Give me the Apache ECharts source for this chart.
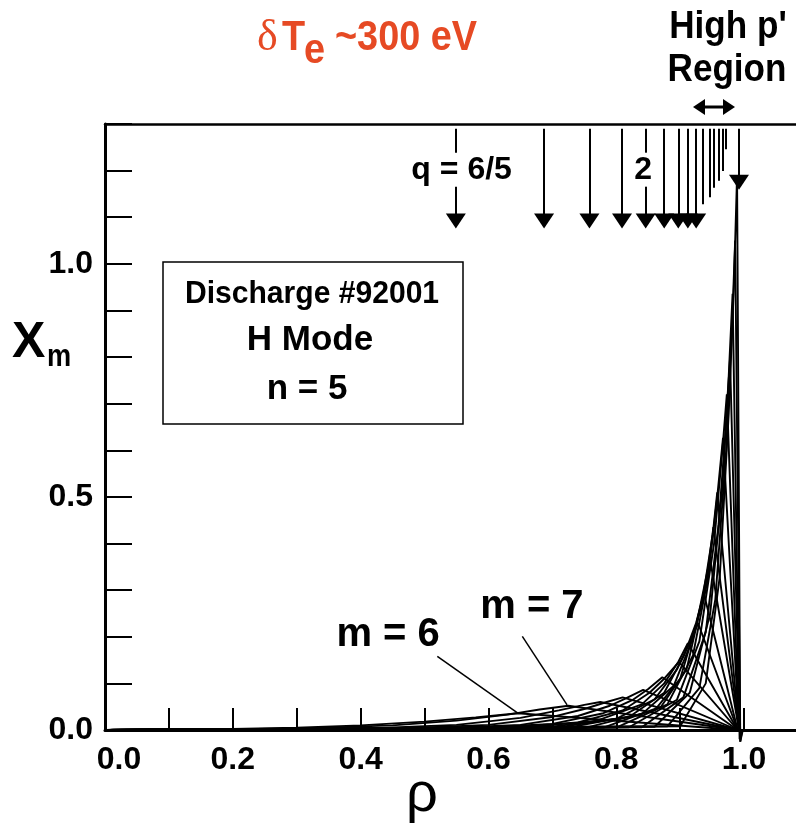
<!DOCTYPE html>
<html lang="en">
<head>
<meta charset="UTF-8">
<title>Mode amplitude profiles, n = 5</title>
<script src="https://cdn.jsdelivr.net/npm/echarts@6/dist/echarts.min.js"></script>
<style>
  html, body { margin: 0; padding: 0; background: #fff; }
  #chart { width: 796px; height: 831px; }
</style>
</head>
<body>
<div id="chart"></div>
<script>
// amplitude profiles, one per poloidal m, [rho, x_m]
const m6  = [[0,0],[0.2,0.002],[0.3,0.005],[0.4,0.01],[0.5,0.018],[0.58,0.027],[0.646,0.036],[0.99,0]];
const m7  = [[0,0],[0.3,0.003],[0.45,0.01],[0.55,0.02],[0.63,0.033],[0.68,0.044],[0.725,0.052],[0.99,0]];
const m8  = [[0,0],[0.4,0.003],[0.55,0.011],[0.65,0.026],[0.71,0.042],[0.75,0.054],[0.775,0.06],[0.99,0]];
const m9  = [[0,0],[0.45,0.003],[0.6,0.011],[0.7,0.028],[0.75,0.045],[0.785,0.06],[0.81,0.07],[0.99,0]];
const m10 = [[0,0],[0.5,0.003],[0.65,0.011],[0.74,0.03],[0.79,0.052],[0.815,0.068],[0.842,0.086],[0.99,0]];
const m11 = [[0,0],[0.55,0.003],[0.7,0.013],[0.78,0.036],[0.825,0.064],[0.85,0.088],[0.872,0.113],[0.99,0]];
const m12 = [[0,0],[0.6,0.003],[0.74,0.016],[0.81,0.042],[0.852,0.08],[0.875,0.11],[0.898,0.146],[0.99,0]];
const m13 = [[0,0],[0.65,0.004],[0.77,0.02],[0.84,0.055],[0.875,0.1],[0.897,0.146],[0.912,0.186],[0.99,0]];
const m14 = [[0,0],[0.68,0.004],[0.8,0.024],[0.86,0.066],[0.895,0.13],[0.914,0.185],[0.928,0.229],[0.99,0]];
const m15 = [[0,0],[0.7,0.004],[0.82,0.028],[0.875,0.08],[0.906,0.16],[0.925,0.23],[0.937,0.293],[0.99,0]];
const m16 = [[0,0],[0.72,0.004],[0.84,0.034],[0.89,0.095],[0.918,0.19],[0.937,0.29],[0.947,0.364],[0.992,0]];
const m17 = [[0,0],[0.75,0.004],[0.86,0.042],[0.9,0.11],[0.926,0.23],[0.944,0.35],[0.952,0.435],[0.992,0]];
const m18 = [[0,0],[0.78,0.005],[0.87,0.05],[0.91,0.13],[0.935,0.28],[0.951,0.42],[0.958,0.51],[0.992,0]];
const m19 = [[0,0],[0.8,0.005],[0.88,0.055],[0.92,0.16],[0.944,0.33],[0.958,0.5],[0.967,0.627],[0.992,0]];
const m20 = [[0,0],[0.82,0.006],[0.895,0.065],[0.93,0.19],[0.953,0.4],[0.966,0.6],[0.973,0.72],[0.992,0]];
const m21 = [[0,0],[0.84,0.006],[0.905,0.07],[0.94,0.21],[0.96,0.44],[0.971,0.64],[0.978,0.797],[0.993,0]];
const m22 = [[0,0],[0.86,0.007],[0.915,0.08],[0.947,0.25],[0.966,0.52],[0.976,0.76],[0.982,0.936],[0.993,-0.02],[0.997,0]];
const m23 = [[0,0],[0.88,0.008],[0.93,0.09],[0.955,0.28],[0.972,0.6],[0.981,0.86],[0.986,1.05],[0.994,-0.025],[0.997,0]];
const m24 = [[0,0],[0.9,0.008],[0.94,0.1],[0.962,0.33],[0.976,0.68],[0.984,0.95],[0.989,1.19],[0.994,-0.025],[0.998,0]];
const modes = [m6, m7, m8, m9, m10, m11, m12, m13, m14, m15, m16, m17, m18, m19, m20, m21, m22, m23, m24];

// rational surfaces q = m/5 marked along the top
const qArrowX    = [0.549, 0.687, 0.758, 0.809, 0.846, 0.875, 0.897, 0.912, 0.925, 0.936, 0.946, 0.953, 0.960, 0.967, 0.972, 0.992];
const qArrowEnd  = [1.092, 1.092, 1.092, 1.092, 1.092, 1.092, 1.092, 1.092, 1.092, 1.128, 1.143, 1.163, 1.178, 1.199, 1.246, 1.175];
const qArrowHead = [1, 1, 1, 1, 1, 1, 1, 1, 1, 0, 0, 0, 0, 0, 0, 1];
const qArrowTop  = 1.29;

// annotations (data coords)
const qLabels = [['q = 6/5', 0.558, 1.202], ['2', 0.842, 1.202]];
const mLabels = [['m = 6', 0.443, 0.204], ['m = 7', 0.668, 0.265]];
const mLeaders = [[[0.520, 0.158], [0.646, 0.036]], [[0.653, 0.201], [0.723, 0.054]]];

const red = '#e64a24';
const sans = '"Liberation Sans", Arial, sans-serif';

function txt(x, y, s, size, o) {
    o = o || {};
    return {
        type: 'text', x: x, y: y, scaleX: o.sx || 1, silent: true, z: 10,
        style: {
            text: s,
            font: (o.weight || 'bold') + ' ' + size + 'px ' + (o.family || sans),
            fill: o.color || '#000',
            align: o.align || 'center',
            verticalAlign: 'middle'
        }
    };
}

let arrowLines = qArrowX.map(function (x, i) {
    return [
        {coord: [x, qArrowTop], symbol: 'none'},
        {coord: [x, qArrowEnd[i]], symbol: qArrowHead[i] ? 'triangle' : 'none', symbolSize: [20, 15]}
    ];
});
let leaderLines = mLeaders.map(function (l) {
    return [
        {coord: l[0], symbol: 'none', lineStyle: {width: 1.5}},
        {coord: l[1], symbol: 'none'}
    ];
});

let series = modes.map(function (d, i) {
    return {
        type: 'line', name: 'm = ' + (i + 6), data: d,
        showSymbol: false, symbol: 'none', clip: false, z: 3,
        lineStyle: {color: '#000', width: 1.9},
        emphasis: {disabled: true}
    };
});
series[0].markLine = {
    silent: true, animation: false, symbol: ['none', 'none'],
    label: {show: false},
    lineStyle: {color: '#000', width: 2, type: 'solid'},
    emphasis: {disabled: true},
    data: arrowLines.concat(leaderLines)
};
let clear = 'rgba(0,0,0,0)';
series.push({
    type: 'scatter', z: 6, symbolSize: 1, itemStyle: {color: clear, opacity: 1}, silent: true,
    data: qLabels.map(function (q) { return {name: q[0], value: [q[1], q[2]]}; }),
    label: {
        show: true, position: 'inside', formatter: '{b}', color: '#000',
        fontFamily: sans, fontWeight: 'bold', fontSize: 32,
        backgroundColor: '#fff', padding: [2, 2, 0, 2]
    }
});
series.push({
    type: 'scatter', z: 6, symbolSize: 1, itemStyle: {color: clear, opacity: 1}, silent: true,
    data: mLabels.map(function (q) { return {name: q[0], value: [q[1], q[2]]}; }),
    label: {
        show: true, position: 'inside', formatter: '{b}', color: '#000',
        fontFamily: sans, fontWeight: 'bold', fontSize: 40
    }
});

let axisFont = {fontFamily: sans, fontWeight: 'bold', fontSize: 32, color: '#000'};

let option = {
    animation: false,
    backgroundColor: '#fff',
    grid: {left: 105, top: 124, width: 703, height: 606, outerBoundsMode: 'none', containLabel: false},
    xAxis: [{
        type: 'value', min: 0, max: 1.1, interval: 0.1,
        axisLine: {lineStyle: {color: '#000', width: 3}},
        axisTick: {inside: true, length: 22, lineStyle: {color: '#000', width: 2}},
        splitLine: {show: false},
        axisLabel: Object.assign({
            margin: 14,
            formatter: function (v) {
                let k = Math.round(v * 10);
                if (k % 2) return '';
                if (k === 0) return '{z|0.0}';
                return (k / 10).toFixed(1);
            },
            rich: {z: Object.assign({padding: [0, 0, 0, 28]}, axisFont)}
        }, axisFont)
    }, {
        type: 'value', position: 'top', min: 0, max: 1.1,
        axisLine: {lineStyle: {color: '#000', width: 2.5}},
        axisTick: {show: false}, axisLabel: {show: false}, splitLine: {show: false}
    }],
    yAxis: {
        type: 'value', min: 0, max: 1.3, interval: 0.1,
        axisLine: {lineStyle: {color: '#000', width: 3}},
        axisTick: {inside: true, length: 27, lineStyle: {color: '#000', width: 2}},
        splitLine: {show: false},
        axisLabel: Object.assign({
            margin: 12,
            formatter: function (v) {
                let k = Math.round(v * 10);
                return (k % 5 === 0 && k <= 10) ? (k / 10).toFixed(1) : '';
            }
        }, axisFont)
    },
    graphic: [
        // info box first so its text sits on top
        {type: 'rect', silent: true, z: 1, shape: {x: 163, y: 262, width: 300, height: 162},
            style: {fill: '#fff', stroke: '#000', lineWidth: 1.5}},
        txt(312, 294, 'Discharge #92001', 32, {sx: 0.94}),
        txt(310, 340, 'H Mode', 35),
        txt(307, 389, 'n = 5', 35),
        // title
        txt(257, 38, 'δ', 44, {family: '"Liberation Serif", serif', weight: 'normal', color: red, align: 'left'}),
        txt(282, 38, 'T', 43, {color: red, align: 'left', sx: 0.88}),
        txt(304, 51, 'e', 43, {color: red, align: 'left', sx: 0.88}),
        txt(335, 38, '~300 eV', 43, {color: red, align: 'left', sx: 0.88}),
        // high p' region
        txt(728, 27, "High p'", 39, {sx: 0.9}),
        txt(727, 70, 'Region', 39, {sx: 0.9}),
        {type: 'line', silent: true, shape: {x1: 700, y1: 107, x2: 727, y2: 107}, style: {stroke: '#000', lineWidth: 3}},
        {type: 'polygon', silent: true, shape: {points: [[693, 107], [705, 99], [705, 115]]}, style: {fill: '#000'}},
        {type: 'polygon', silent: true, shape: {points: [[735, 107], [723, 99], [723, 115]]}, style: {fill: '#000'}},
        // axis titles
        txt(12, 343, 'X', 50, {align: 'left'}),
        txt(47, 357, 'm', 32, {align: 'left', sx: 0.85}),
        txt(422, 796, 'ρ', 56, {weight: 'normal'})
    ],
    series: series
};

let chart = echarts.init(document.getElementById('chart'));
chart.setOption(option);
</script>
</body>
</html>
